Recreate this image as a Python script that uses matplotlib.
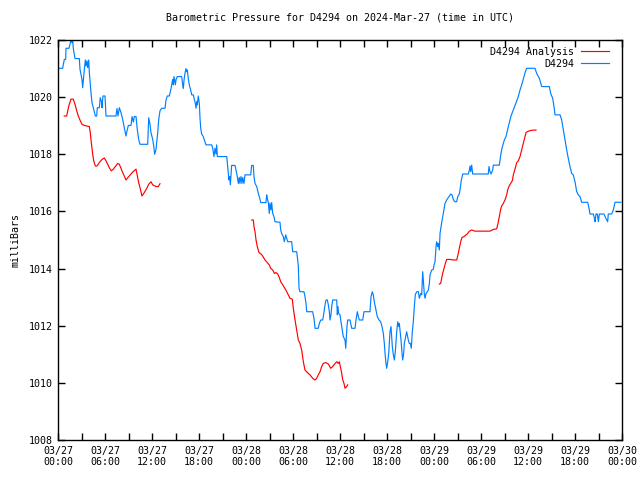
import numpy as np
import matplotlib
matplotlib.use("Agg")
import matplotlib.pyplot as plt

# hours since 2024-03-27 00:00 UTC, pressure in millibars
obs_hours = [0.09, 0.6, 0.68, 0.81, 0.98, 1.02, 1.40, 1.66, 1.79, 1.88, 1.95, 2.17, 2.72, 2.81, 3.06,
             3.15, 3.36, 3.49, 3.57, 3.70, 3.79, 3.92, 4.0, 4.21, 4.34, 4.51, 4.77, 4.94, 5.02, 5.27,
             5.40, 5.58, 5.62, 5.74, 6.0, 6.13, 7.40, 7.53, 7.66, 7.83, 8.04, 8.26, 8.46, 8.68, 8.81,
             8.98, 9.32, 9.45, 9.62, 9.74, 9.96, 10.12, 10.30, 10.47, 11.45, 11.58, 11.74, 11.87, 12.09,
             12.22, 12.34, 12.51, 12.73, 12.86, 13.02, 13.23, 13.66, 13.79, 13.95, 14.21, 14.39, 14.55,
             14.64, 14.72, 14.81, 14.98, 15.07, 15.23, 15.79, 15.92, 16.0, 16.09, 16.21, 16.34, 16.43,
             16.51, 16.63, 16.76, 16.94, 17.07, 17.27, 17.40, 17.53, 17.62, 17.71, 17.78, 17.91, 18.04,
             18.13, 18.22, 18.34, 18.55, 18.68, 18.89, 19.62, 19.75, 19.91, 20.04, 20.17, 20.26, 20.34,
             21.54, 21.62, 21.70, 21.83, 21.92, 22.0, 22.09, 22.17, 22.60, 22.72, 22.89, 23.02, 23.14,
             23.23, 23.36, 23.49, 23.58, 23.74, 23.87, 24.60, 24.72, 24.93, 25.02, 25.15, 25.37, 25.57,
             25.70, 25.88, 26.55, 26.64, 26.72, 26.85, 26.97, 27.06, 27.19, 27.28, 27.41, 27.57, 27.70,
             28.34, 28.43, 28.55, 28.76, 28.89, 29.07, 29.20, 29.33, 29.83, 29.96, 30.47, 30.60, 30.68,
             30.77, 30.89, 31.40, 31.53, 31.66, 31.75, 32.51, 32.68, 32.81, 33.23, 33.36, 33.54, 33.79,
             33.87, 34.09, 34.21, 34.38, 34.51, 34.64, 34.72, 34.85, 34.94, 35.07, 35.58, 35.66, 35.74,
             35.83, 36.0, 36.09, 36.22, 36.42, 36.64, 36.73, 36.81, 36.89, 36.98, 37.28, 37.49, 37.92,
             38.04, 38.21, 38.34, 38.47, 38.90, 39.06, 39.83, 39.96, 40.12, 40.25, 40.38, 40.59, 40.76,
             40.98, 41.19, 41.36, 41.53, 41.66, 41.75, 41.87, 41.96, 42.09, 42.22, 42.30, 42.38, 42.51,
             42.60, 42.68, 42.81, 42.94, 43.06, 43.15, 43.24, 43.37, 43.49, 43.57, 43.66, 43.79, 43.92,
             44.0, 44.13, 44.21, 44.34, 44.51, 44.64, 44.72, 44.85, 44.98, 45.10, 45.23, 45.36, 45.49,
             45.61, 45.79, 46.0, 46.13, 46.30, 46.43, 46.56, 46.64, 46.77, 46.86, 46.98, 47.15, 47.28,
             47.41, 47.49, 47.71, 47.91, 48.0, 48.13, 48.26, 48.34, 48.47, 48.55, 48.68, 48.77, 48.98,
             49.19, 49.40, 49.62, 49.95, 50.13, 50.30, 50.47, 50.64, 50.90, 51.03, 51.23, 51.32, 51.49,
             51.67, 52.38, 52.51, 52.60, 52.69, 52.81, 52.94, 54.93, 55.02, 55.15, 55.28, 55.49, 55.57,
             56.34, 56.43, 56.55, 56.68, 56.85, 56.98, 57.19, 57.49, 57.83, 58.21, 58.47, 58.76, 58.98,
             59.23, 59.49, 59.66, 59.83, 60.89, 61.11, 61.45, 61.75, 62.72, 62.90, 63.15, 63.32, 63.45,
             64.09, 64.30, 64.51, 64.72, 64.94, 65.14, 65.36, 65.58, 65.78, 66.0, 66.21, 66.42, 66.64,
             66.85, 67.62, 67.79, 67.91, 68.34, 68.47, 68.56, 68.68, 68.85, 68.98, 69.11, 69.70, 69.92,
             70.17, 70.25, 70.68, 70.89, 71.11, 71.85]
obs_mb = [1021.01, 1021.01, 1021.15, 1021.32, 1021.32, 1021.71, 1021.71, 1022.0, 1021.9, 1022.0, 1021.71,
          1021.35, 1021.35, 1020.97, 1020.62, 1020.33, 1020.97, 1021.3, 1021.09, 1021.27, 1021.03, 1021.3,
          1020.86, 1020.16, 1019.81, 1019.63, 1019.34, 1019.34, 1019.63, 1019.63, 1019.98, 1019.81,
          1019.63, 1020.04, 1020.04, 1019.34, 1019.34, 1019.6, 1019.34, 1019.63, 1019.46, 1019.22,
          1018.93, 1018.64, 1018.82, 1019.01, 1019.01, 1019.32, 1019.13, 1019.32, 1019.32, 1018.87,
          1018.52, 1018.35, 1018.35, 1019.28, 1019.05, 1018.76, 1018.52, 1018.29, 1018.0, 1018.17,
          1018.76, 1019.22, 1019.52, 1019.61, 1019.61, 1019.9, 1020.04, 1020.04, 1020.25, 1020.48,
          1020.62, 1020.43, 1020.72, 1020.43, 1020.62, 1020.72, 1020.72, 1020.43, 1020.31, 1020.6,
          1020.83, 1021.0, 1020.89, 1020.95, 1020.66, 1020.43, 1020.25, 1020.08, 1020.08, 1019.93,
          1019.78, 1019.61, 1019.84, 1019.73, 1020.04, 1019.78, 1019.26, 1018.91, 1018.71, 1018.62,
          1018.5, 1018.33, 1018.33, 1018.21, 1017.92, 1018.21, 1018.01, 1018.33, 1017.92, 1017.92,
          1017.68, 1017.45, 1017.1, 1017.22, 1016.93, 1017.28, 1017.61, 1017.61, 1017.45, 1017.22,
          1016.98, 1017.19, 1016.98, 1017.22, 1016.98, 1017.19, 1016.98, 1017.28, 1017.28, 1017.61,
          1017.61, 1017.22, 1016.98, 1016.87, 1016.63, 1016.52, 1016.31, 1016.31, 1016.58, 1016.46,
          1016.31, 1015.93, 1016.29, 1016.05, 1016.31, 1015.93, 1015.82, 1015.64, 1015.62, 1015.35,
          1015.23, 1015.12, 1014.94, 1015.18, 1015.06, 1014.94, 1014.94, 1014.59, 1014.59, 1014.3,
          1014.07, 1013.31, 1013.19, 1013.19, 1013.02, 1012.78, 1012.49, 1012.49, 1012.26, 1011.91,
          1011.91, 1012.08, 1012.2, 1012.2, 1012.32, 1012.73, 1012.9, 1012.9, 1012.73, 1012.49, 1012.2,
          1012.38, 1012.67, 1012.9, 1012.9, 1012.38, 1012.67, 1012.43, 1012.38, 1012.2, 1011.97,
          1011.62, 1011.5, 1011.21, 1011.62, 1011.97, 1012.2, 1012.2, 1011.91, 1011.91, 1012.2, 1012.49,
          1012.32, 1012.2, 1012.2, 1012.49, 1012.49, 1013.02, 1013.19, 1013.08, 1012.84, 1012.55,
          1012.32, 1012.2, 1012.14, 1011.97, 1011.73, 1011.38, 1011.03, 1010.68, 1010.51, 1010.74,
          1011.03, 1011.38, 1011.79, 1011.97, 1011.62, 1011.27, 1010.98, 1010.8, 1011.09, 1011.44,
          1011.79, 1012.14, 1011.97, 1012.08, 1011.85, 1011.5, 1011.03, 1010.8, 1011.03, 1011.38,
          1011.56, 1011.79, 1011.62, 1011.5, 1011.38, 1011.38, 1011.21, 1011.79, 1012.14, 1012.67,
          1013.08, 1013.19, 1013.19, 1012.96, 1013.13, 1013.08, 1013.89, 1013.6, 1013.08, 1012.96,
          1013.13, 1013.19, 1013.25, 1013.48, 1013.78, 1013.95, 1013.97, 1014.12, 1014.24, 1014.77,
          1014.94, 1014.77, 1014.88, 1014.65, 1015.23, 1015.61, 1015.93, 1016.28, 1016.4, 1016.54,
          1016.61, 1016.58, 1016.42, 1016.34, 1016.34, 1016.52, 1016.61, 1016.75, 1017.1, 1017.31,
          1017.31, 1017.45, 1017.59, 1017.39, 1017.62, 1017.31, 1017.31, 1017.57, 1017.39, 1017.31,
          1017.45, 1017.62, 1017.62, 1017.8, 1018.03, 1018.21, 1018.38, 1018.5, 1018.62, 1018.97,
          1019.34, 1019.61, 1019.8, 1020.02, 1020.25, 1020.46, 1020.72, 1020.89, 1021.01, 1021.01,
          1020.83, 1020.66, 1020.37, 1020.37, 1020.13, 1019.96, 1019.67, 1019.38, 1019.38, 1019.2,
          1018.85, 1018.5, 1018.15, 1017.86, 1017.57, 1017.33, 1017.28, 1017.04, 1016.7, 1016.58,
          1016.52, 1016.32, 1016.32, 1016.11, 1015.91, 1015.91, 1015.77, 1015.64, 1015.91, 1015.91,
          1015.64, 1015.91, 1015.91, 1015.77, 1015.64, 1015.91, 1015.91, 1016.05, 1016.32, 1016.32]

# analysis runs (three separate segments)
ana1_hours = [0.80, 1.11, 1.24, 1.44, 1.66, 1.95, 2.17, 2.39, 2.59, 2.85, 3.06, 3.36, 3.66, 4.0, 4.12,
              4.25, 4.43, 4.56, 4.77, 4.98, 5.27, 5.62, 5.91, 6.13, 6.34, 6.55, 6.80, 7.06, 7.32, 7.62,
              7.83, 8.04, 8.26, 8.46, 8.68, 8.90, 9.10, 9.54, 9.96, 10.09, 10.30, 10.47, 10.72, 11.02,
              11.32, 11.58, 11.87, 12.09, 12.51, 12.80, 13.02]
ana1_mb = [1019.34, 1019.34, 1019.52, 1019.75, 1019.93, 1019.93, 1019.75, 1019.52, 1019.34, 1019.17,
           1019.05, 1019.01, 1018.99, 1018.97, 1018.76, 1018.41, 1018.0, 1017.77, 1017.59, 1017.59,
           1017.71, 1017.82, 1017.87, 1017.77, 1017.65, 1017.53, 1017.42, 1017.48, 1017.57, 1017.68,
           1017.65, 1017.51, 1017.36, 1017.24, 1017.1, 1017.18, 1017.24, 1017.38, 1017.48, 1017.3,
           1017.01, 1016.83, 1016.54, 1016.66, 1016.8, 1016.95, 1017.04, 1016.93, 1016.87, 1016.87,
           1016.97]
ana2_hours = [24.73, 24.93, 25.02, 25.15, 25.28, 25.44, 25.66, 25.92, 26.13, 26.43, 26.72, 26.97, 27.15,
              27.41, 27.62, 27.83, 28.05, 28.25, 28.43, 28.69, 28.89, 29.20, 29.40, 29.62, 29.91, 30.04,
              30.26, 30.47, 30.68, 30.89, 31.11, 31.32, 31.53, 31.75, 31.95, 32.17, 32.51, 32.81, 33.02,
              33.23, 33.45, 33.66, 33.87, 34.17, 34.51, 34.81, 35.07, 35.27, 35.58, 35.78, 35.91, 36.09,
              36.22, 36.35, 36.51, 36.64, 36.85, 36.98]
ana2_mb = [1015.7, 1015.7, 1015.47, 1015.29, 1015.0, 1014.77, 1014.56, 1014.51, 1014.44, 1014.3, 1014.21,
           1014.13, 1014.01, 1013.95, 1013.83, 1013.86, 1013.81, 1013.69, 1013.54, 1013.43, 1013.34,
           1013.19, 1013.08, 1012.96, 1012.93, 1012.61, 1012.2, 1011.85, 1011.5, 1011.38, 1011.15,
           1010.74, 1010.45, 1010.39, 1010.33, 1010.28, 1010.16, 1010.1, 1010.16, 1010.28, 1010.39,
           1010.57, 1010.68, 1010.71, 1010.66, 1010.51, 1010.57, 1010.65, 1010.74, 1010.68, 1010.74,
           1010.51, 1010.33, 1010.1, 1009.98, 1009.81, 1009.87, 1009.93]
ana3_hours = [48.68, 48.85, 48.98, 49.11, 49.28, 49.45, 49.62, 50.04, 50.47, 50.90, 51.06, 51.23, 51.41,
              51.57, 51.83, 52.09, 52.30, 52.51, 52.81, 53.23, 53.87, 54.51, 55.15, 55.57, 56.0, 56.17,
              56.34, 56.51, 56.64, 56.85, 57.06, 57.28, 57.40, 57.61, 57.79, 58.0, 58.13, 58.34, 58.56,
              58.76, 58.98, 59.19, 59.40, 59.62, 59.75, 59.91, 60.17, 60.51, 61.02]
ana3_mb = [1013.46, 1013.48, 1013.66, 1013.83, 1014.01, 1014.18, 1014.32, 1014.32, 1014.3, 1014.3,
           1014.48, 1014.71, 1014.94, 1015.09, 1015.12, 1015.18, 1015.23, 1015.31, 1015.35, 1015.31,
           1015.31, 1015.31, 1015.31, 1015.37, 1015.39, 1015.58, 1015.82, 1016.07, 1016.19, 1016.28,
           1016.4, 1016.58, 1016.75, 1016.9, 1016.98, 1017.08, 1017.28, 1017.48, 1017.71, 1017.77,
           1017.92, 1018.15, 1018.38, 1018.62, 1018.76, 1018.79, 1018.82, 1018.84, 1018.85]

tick_hours = list(range(0, 73, 6))
tick_labels = ["03/27\n00:00", "03/27\n06:00", "03/27\n12:00", "03/27\n18:00",
               "03/28\n00:00", "03/28\n06:00", "03/28\n12:00", "03/28\n18:00",
               "03/29\n00:00", "03/29\n06:00", "03/29\n12:00", "03/29\n18:00",
               "03/30\n00:00"]
y_ticks = [1008, 1010, 1012, 1014, 1016, 1018, 1020, 1022]

plt.rcParams['font.family'] = 'DejaVu Sans Mono'
plt.rcParams['font.size'] = 7.2

fig = plt.figure(figsize=(6.4, 4.8), dpi=100)
ax = fig.add_axes([58 / 640, 40 / 480, 564 / 640, 400 / 480])

red = '#ff0000'
blue = '#0080ff'
ax.plot(ana1_hours, ana1_mb, color=red, lw=0.85, label='D4294 Analysis')
ax.plot(ana2_hours, ana2_mb, color=red, lw=0.85)
ax.plot(ana3_hours, ana3_mb, color=red, lw=0.85)
ax.plot(obs_hours, obs_mb, color=blue, lw=0.85, label='D4294')

ax.set_xlim(0, 72)
ax.set_ylim(1008, 1022)
ax.set_xticks(tick_hours)
ax.set_xticklabels(tick_labels)
ax.set_xticks(list(range(3, 72, 6)), minor=True)
ax.set_yticks(y_ticks)
ax.set_yticklabels([str(v) for v in y_ticks])
ax.tick_params(which='both', direction='in', top=True, right=True, length=5, width=1, pad=4)
for s in ax.spines.values():
    s.set_linewidth(1)

ax.set_ylabel('milliBars', labelpad=6)
ax.set_title('Barometric Pressure for D4294 on 2024-Mar-27 (time in UTC)', fontsize=7.2, pad=14)

ax.legend(loc='upper right', bbox_to_anchor=(1 - 6 / 564, 1.0), frameon=False, markerfirst=False,
          handlelength=2.8, borderaxespad=0.3, labelspacing=0.2, handletextpad=0.7)

fig.savefig('out.png', dpi=100)
